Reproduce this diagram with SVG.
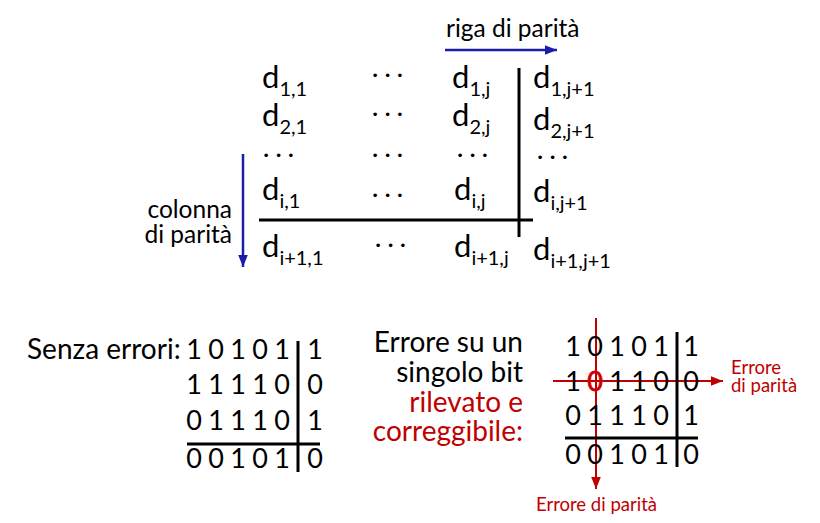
<svg xmlns="http://www.w3.org/2000/svg" width="820" height="523" viewBox="0 0 820 523">
<defs>
<style>
text{font-family:Lato,"Open Sans","Liberation Sans",sans-serif;fill:#000}
.d{font-size:31px}
.s{font-size:20px}
.dots{font-size:24px}
.lab{font-size:24.5px}
.big{font-size:28px}
.dig{font-size:27px;text-anchor:middle}
.red{fill:#c00000}
.rs{font-size:18.5px;fill:#c00000}
.bl{stroke:#000;stroke-width:3;fill:none}
.blue{stroke:#1c1ca8;stroke-width:2.5;fill:none}
.rl{stroke:#c00000;stroke-width:2;fill:none}
</style>
<marker id="ab" viewBox="0 0 10 10" refX="10" refY="5" markerWidth="5" markerHeight="5" markerUnits="strokeWidth" orient="auto"><path d="M0,1 L10,5 L0,9 Z" fill="#1c1ca8"/></marker>
<marker id="ar" viewBox="0 0 10 10" refX="10" refY="5" markerWidth="6" markerHeight="6" markerUnits="strokeWidth" orient="auto"><path d="M0,1 L10,5 L0,9 Z" fill="#c00000"/></marker>
</defs>
<g id="connectors">
<line class="blue" x1="445" y1="50" x2="557" y2="50" marker-end="url(#ab)"/>
<line class="blue" x1="243" y1="154" x2="243" y2="267" marker-end="url(#ab)"/>
<line class="rl" x1="596" y1="318" x2="596" y2="489" marker-end="url(#ar)"/>
<line class="rl" x1="553" y1="381" x2="723" y2="381" marker-end="url(#ar)"/>
</g>
<g id="top-matrix">
<line class="bl" x1="519" y1="68" x2="519" y2="237"/>
<line class="bl" x1="259" y1="220" x2="533" y2="220"/>
<text x="262" y="88"><tspan class="d">d</tspan><tspan class="s" dy="8">1,1</tspan></text>
<text x="372" y="82" class="dots">· · ·</text>
<text x="452" y="88"><tspan class="d">d</tspan><tspan class="s" dy="8">1,j</tspan></text>
<text x="533" y="88"><tspan class="d">d</tspan><tspan class="s" dy="8">1,j+1</tspan></text>
<text x="262" y="126"><tspan class="d">d</tspan><tspan class="s" dy="8">2,1</tspan></text>
<text x="372" y="121" class="dots">· · ·</text>
<text x="452" y="126"><tspan class="d">d</tspan><tspan class="s" dy="8">2,j</tspan></text>
<text x="533" y="130"><tspan class="d">d</tspan><tspan class="s" dy="8">2,j+1</tspan></text>
<text x="263" y="162" class="dots">· · ·</text>
<text x="372" y="162" class="dots">· · ·</text>
<text x="457" y="162" class="dots">· · ·</text>
<text x="537" y="164" class="dots">· · ·</text>
<text x="262" y="200"><tspan class="d">d</tspan><tspan class="s" dy="8">i,1</tspan></text>
<text x="372" y="202" class="dots">· · ·</text>
<text x="454" y="200"><tspan class="d">d</tspan><tspan class="s" dy="8">i,j</tspan></text>
<text x="533" y="202"><tspan class="d">d</tspan><tspan class="s" dy="8">i,j+1</tspan></text>
<text x="262" y="257"><tspan class="d">d</tspan><tspan class="s" dy="8">i+1,1</tspan></text>
<text x="375" y="252" class="dots">· · ·</text>
<text x="454" y="257"><tspan class="d">d</tspan><tspan class="s" dy="8">i+1,j</tspan></text>
<text x="533" y="260"><tspan class="d">d</tspan><tspan class="s" dy="8">i+1,j+1</tspan></text>
</g>
<g id="label-riga"><text x="446" y="37" class="lab">riga di parità</text></g>
<g id="label-colonna">
<text x="232" y="218" class="lab" text-anchor="end">colonna</text>
<text x="232" y="243" class="lab" text-anchor="end">di parità</text>
</g>
<g id="senza-errori">
<text x="27" y="359" class="big">Senza errori:</text>
<line class="bl" x1="298" y1="341" x2="298" y2="472"/>
<line class="bl" x1="187" y1="444" x2="320" y2="444"/>
<text y="359" class="dig"><tspan x="194">1</tspan><tspan x="216">0</tspan><tspan x="238">1</tspan><tspan x="260">0</tspan><tspan x="282">1</tspan><tspan x="315">1</tspan></text>
<text y="394" class="dig"><tspan x="194">1</tspan><tspan x="216">1</tspan><tspan x="238">1</tspan><tspan x="260">1</tspan><tspan x="282">0</tspan><tspan x="315">0</tspan></text>
<text y="430" class="dig"><tspan x="194">0</tspan><tspan x="216">1</tspan><tspan x="238">1</tspan><tspan x="260">1</tspan><tspan x="282">0</tspan><tspan x="315">1</tspan></text>
<text y="468" class="dig"><tspan x="194">0</tspan><tspan x="216">0</tspan><tspan x="238">1</tspan><tspan x="260">0</tspan><tspan x="282">1</tspan><tspan x="315">0</tspan></text>
</g>
<g id="errore-label" text-anchor="end">
<text x="523" y="352" class="big">Errore su un</text>
<text x="523" y="382" class="big">singolo bit</text>
<text x="523" y="412" class="big red">rilevato e</text>
<text x="523" y="441" class="big red">correggibile:</text>
</g>
<g id="errore-matrix">
<line class="bl" x1="677" y1="332" x2="677" y2="467"/>
<line class="bl" x1="565" y1="438" x2="698" y2="438"/>
<text y="356" class="dig"><tspan x="573">1</tspan><tspan x="595">0</tspan><tspan x="617">1</tspan><tspan x="639">0</tspan><tspan x="661">1</tspan><tspan x="691">1</tspan></text>
<text y="391" class="dig"><tspan x="573">1</tspan><tspan x="595" class="red" style="stroke:#e00000;stroke-width:0.8">0</tspan><tspan x="617">1</tspan><tspan x="639">1</tspan><tspan x="661">0</tspan><tspan x="691">0</tspan></text>
<text y="425" class="dig"><tspan x="573">0</tspan><tspan x="595">1</tspan><tspan x="617">1</tspan><tspan x="639">1</tspan><tspan x="661">0</tspan><tspan x="691">1</tspan></text>
<text y="464" class="dig"><tspan x="573">0</tspan><tspan x="595">0</tspan><tspan x="617">1</tspan><tspan x="639">0</tspan><tspan x="661">1</tspan><tspan x="691">0</tspan></text>
</g>
<g id="label-errore-riga">
<text x="731" y="374" class="rs">Errore</text>
<text x="731" y="392" class="rs">di parità</text>
</g>
<g id="label-errore-colonna"><text x="536" y="511" class="rs">Errore di parità</text></g>
</svg>
